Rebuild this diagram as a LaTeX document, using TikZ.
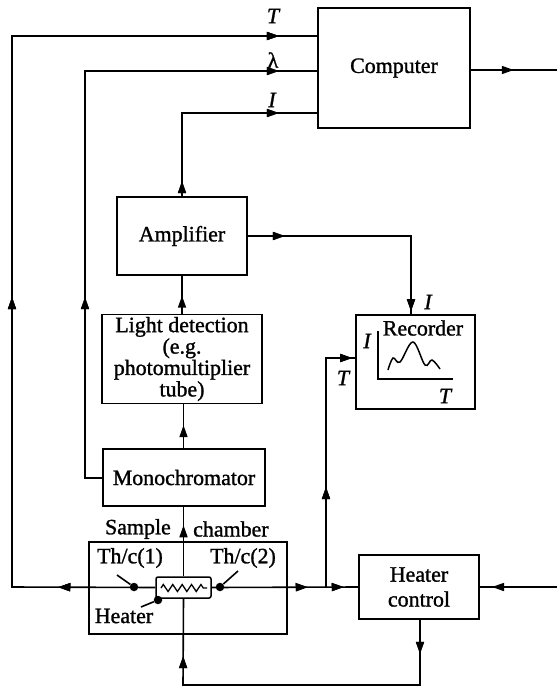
\documentclass[tikz,border=0pt]{standalone}
\usepackage{fontspec}
\setmainfont{Liberation Serif}[FakeBold=1.2]
\usetikzlibrary{arrows.meta,decorations.markings,decorations.pathmorphing}
\newcommand{\boxfont}{\fontsize{22}{20.5}\selectfont}
\newcommand{\lblfont}{\fontsize{22}{20}\selectfont}
\tikzset{
  box/.style={draw, line width=1.6bp, rectangle, inner sep=0pt, align=center, font=\boxfont},
  wire/.style={line width=1.6bp, line join=miter},
  arrowat/.style={postaction={decorate}, decoration={markings, mark=at position #1 with {\arrow{Triangle[length=12bp,width=8bp]}}}},
  dotnode/.style={circle, fill=black, inner sep=0pt, minimum size=8.5bp},
  lbl/.style={inner sep=0pt, font=\boxfont},
  var/.style={inner sep=0pt, font=\lblfont\itshape},
}
\begin{document}
\begin{tikzpicture}[x=1bp,y=-1bp]
\useasboundingbox (0,0) rectangle (557,687);
% boxes
\node[box, minimum width=152bp, minimum height=120bp] (comp) at (394,68) {Computer};
\node[box, minimum width=130bp, minimum height=78bp] (amp) at (182,236) {Amplifier};
\node[box, minimum width=160bp, minimum height=89bp, font=\fontsize{22}{21.5}\selectfont] (light) at (182,359) {Light detection\\(e.g.\\photomultiplier\\tube)};
\node[box, minimum width=162bp, minimum height=57bp] (mono) at (184,477.5) {Monochromator};
\node[box, minimum width=119bp, minimum height=94bp] (rec) at (415.5,362) {};
\node[box, minimum width=198bp, minimum height=92bp] (samp) at (188,588) {};
\node[box, minimum width=120bp, minimum height=64bp, font=\fontsize{22}{25}\selectfont] (hc) at (419,587) {Heater\\control};
\node[draw, line width=1.5bp, rounded corners=2bp, minimum width=55bp, minimum height=21bp, inner sep=0pt] (heat) at (183.5,587.5) {};
% zigzag heater element
\draw[line width=1.3bp, decorate, decoration={zigzag, segment length=9.4bp, amplitude=3.5bp}] (161,588) -- (207,588);
% dots
\node[dotnode] (d1) at (134,587) {};
\node[dotnode] (d2) at (220,587) {};
\node[dotnode] (d3) at (158,600) {};
\coordinate (l1) at (117,575);
\coordinate (l2) at (238,571);
\coordinate (l3) at (141,607);
\draw[wire] (l1) -- (d1);
\draw[wire] (l2) -- (d2);
\draw[wire] (l3) -- (d3);
% labels in sample chamber
\node[lbl] (th1) at (130,558) {Th/c(1)};
\node[lbl] (th2) at (243,558) {Th/c(2)};
\node[lbl] (htr) at (124,616) {Heater};
\node[lbl, anchor=east] (sl) at (171,529) {Sample};
\node[lbl, anchor=west] (cl) at (193,529) {chamber};
% recorder inside
\node[lbl] (rect) at (423,328) {Recorder};
\coordinate (ax0) at (378,379);
\coordinate (axy) at (378,331);
\coordinate (axx) at (453,379);
\draw[line width=1.5bp] (axy) -- (ax0) -- (axx);
\node[var] (ri) at (367,341) {I};
\node[var] (rt) at (445,396) {T};
\draw[line width=1.5bp] plot[smooth, tension=0.6] coordinates {(388,370) (393,358) (400,362) (413,342) (425,365) (432,360) (440,369)};
% wire corner coordinates
\coordinate (cT1) at (12,587);
\coordinate (cT2) at (12,36);
\coordinate (cL1) at (85,478);
\coordinate (cL2) at (85,71);
\coordinate (cI) at (182,113);
\coordinate (out) at (557,70);
\coordinate (ca) at (411,236);
\coordinate (cb1) at (420,685);
\coordinate (cb2) at (183,685);
\coordinate (jn) at (326,587);
\coordinate (cj) at (326,358);
\coordinate (inr) at (557,587);
% T line
\draw[wire, arrowat=97bp, arrowat=433bp, arrowat=961bp] (heat.west) -- (cT1) -- (cT2) -- (cT2 -| comp.west);
% lambda line
\draw[wire, arrowat=198bp, arrowat=618bp] (mono.west |- cL1) -- (cL1) -- (cL2) -- (cL2 -| comp.west);
% I line
\draw[wire, arrowat=15bp, arrowat=180bp] (amp.north) -- (cI) -- (cI -| comp.west);
% computer output
\draw[wire, arrowat=43bp] (comp.east |- out) -- (out);
% amplifier to recorder
\draw[wire, arrowat=37bp, arrowat=-3bp] (amp.east) -- (ca) -- (ca |- rec.north);
% light detection to amplifier
\draw[wire, arrowat=18bp] (amp.south |- light.north) -- (amp.south);
% monochromator to light detection
\draw[wire, arrowat=23bp] (mono.north -| heat.north) -- (heat.north |- light.south);
% heater to monochromator
\draw[wire, arrowat=51bp] (heat.north) -- (heat.north |- mono.south);
% heater control loop
\draw[wire, arrowat=34bp, arrowat=331bp] (cb1 |- hc.south) -- (cb1) -- (cb2) -- (heat.south);
% Th/c(2) to heater control
\draw[wire, arrowat=96bp, arrowat=132bp] (heat.east) -- (hc.west);
% branch to recorder
\draw[wire, arrowat=100bp, arrowat=-3bp] (jn) -- (cj) -- (cj -| rec.west);
% input to heater control
\draw[wire, arrowat=65bp] (inr) -- (hc.east);
% variable labels
\node[var] (vT) at (273,16) {T};
\node[inner sep=0pt, font=\lblfont] (vL) at (273,60) {λ};
\node[var] (vI) at (272,100) {I};
\node[var] (vI2) at (428,302) {I};
\node[var] (vT2) at (343,378) {T};
\end{tikzpicture}
\end{document}
